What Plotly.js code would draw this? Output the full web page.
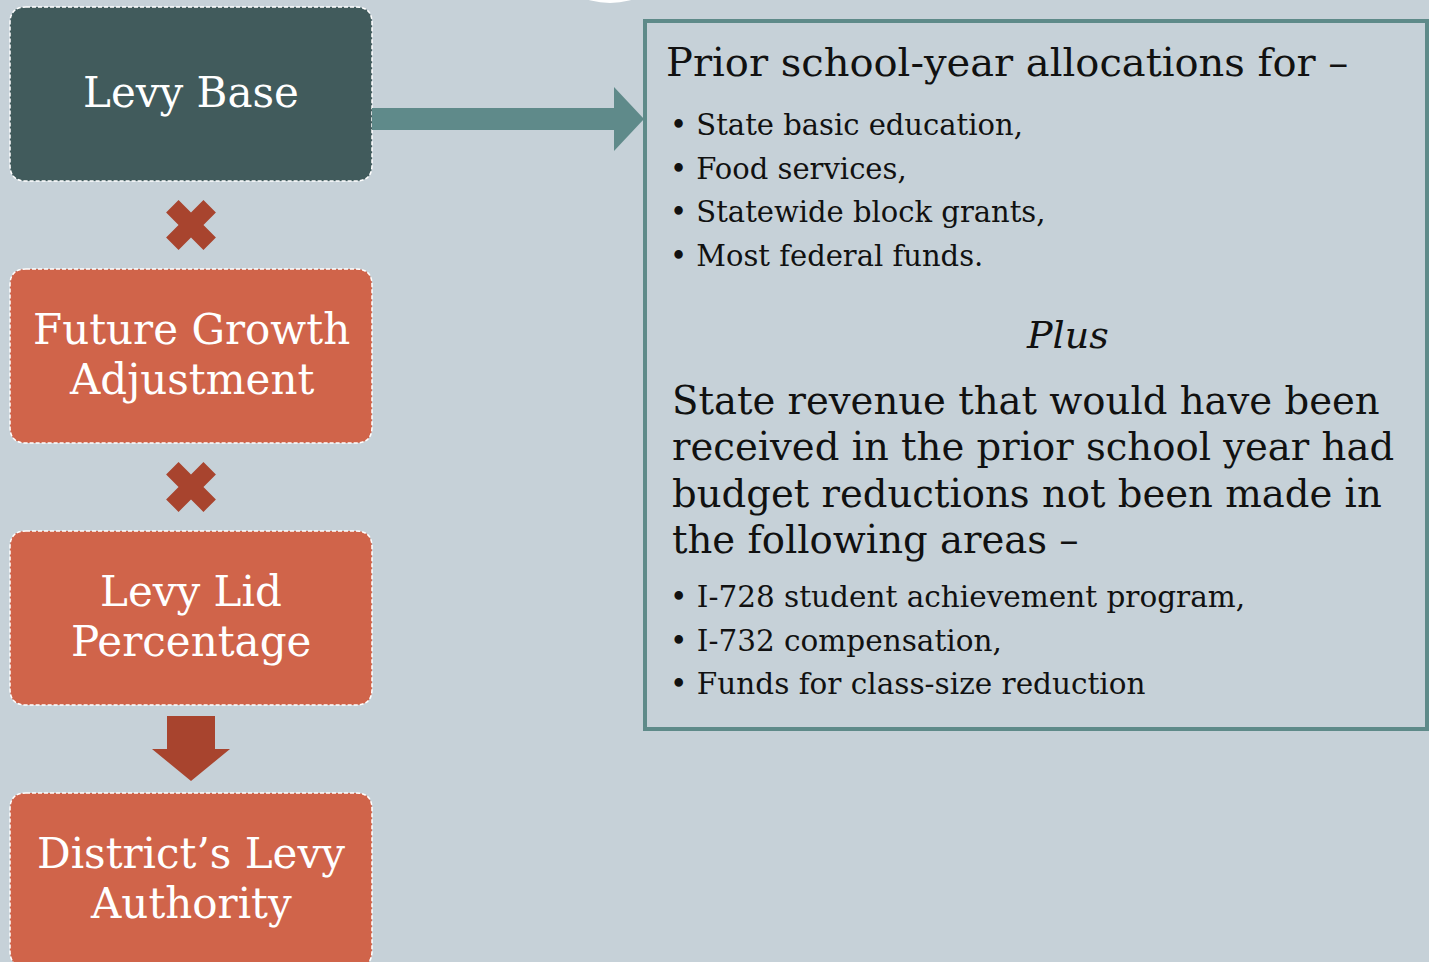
<!DOCTYPE html>
<html>
<head>
<meta charset="utf-8">
<script src="https://cdn.plot.ly/plotly-3.0.1.min.js"></script>
<style>
  html, body { margin: 0; padding: 0; background: #c6d1d8; }
  #plot { width: 1429px; height: 962px; }
</style>
</head>
<body>
<div id="plot"></div>
<script>
// left column: the formula boxes (one entry per text line)
const boxLabels = [["Levy Base"], ["Future Growth", "Adjustment"], ["Levy Lid", "Percentage"], ["District’s Levy", "Authority"]];
const boxColors = ["#415b5c", "#d0644a", "#d0644a", "#d0644a"];
// operators between the boxes
const operators = ["x", "x", "arrow"];

// right panel text
const heading = "Prior school-year allocations for –";
const firstBullets = ["State basic education,", "Food services,", "Statewide block grants,", "Most federal funds."];
const middleWord = "Plus";
const paragraphLines = [
  "State revenue that would have been",
  "received in the prior school year had",
  "budget reductions not been made in",
  "the following areas –"
];
const secondBullets = ["I-728 student achievement program,", "I-732 compensation,", "Funds for class-size reduction"];

const W = 1429, H = 962;
const bg = "#c6d1d8";
const font = "DejaVu Serif";

// layout constants (pixels)
const boxX0 = 10, boxX1 = 372, boxH = 174, boxStep = 262, boxTop = 7;
const panel = { x0: 645, y0: 21, x1: 1427, y1: 729 };

// rounded rectangle as svg path
function roundRect(x0, y0, x1, y1, r) {
  return `M${x0 + r},${y0} L${x1 - r},${y0} Q${x1},${y0} ${x1},${y0 + r} ` +
    `L${x1},${y1 - r} Q${x1},${y1} ${x1 - r},${y1} L${x0 + r},${y1} ` +
    `Q${x0},${y1} ${x0},${y1 - r} L${x0},${y0 + r} Q${x0},${y0} ${x0 + r},${y0} Z`;
}

let shapes = [];
let annotations = [];

boxLabels.forEach((lines, i) => {
  let y0 = boxTop + i * boxStep;
  let y1 = y0 + boxH;
  shapes.push({
    type: "path",
    path: roundRect(boxX0, y0, boxX1, y1, 16),
    fillcolor: boxColors[i],
    line: { color: "#ffffff", width: 1.5, dash: "4px,2px" },
    layer: "below"
  });
  let mid = (y0 + y1) / 2 - 2;
  lines.forEach((line, j) => {
    annotations.push({
      x: (boxX0 + boxX1) / 2, y: mid + (j - (lines.length - 1) / 2) * 50,
      text: line, showarrow: false,
      xanchor: "center", yanchor: "middle",
      font: { family: font, size: 42, color: "#ffffff" }
    });
  });
});

// operator marks between boxes
let xMarkX = [], xMarkY = [];
operators.forEach((op, i) => {
  let gapMid = boxTop + i * boxStep + boxH + (boxStep - boxH) / 2;
  if (op === "x") {
    xMarkX.push((boxX0 + boxX1) / 2);
    xMarkY.push(gapMid);
  } else {
    let cx = (boxX0 + boxX1) / 2;
    shapes.push({
      type: "path",
      path: `M${cx - 24},${gapMid - 33} L${cx + 24},${gapMid - 33} L${cx + 24},${gapMid} ` +
        `L${cx + 39},${gapMid} L${cx},${gapMid + 32} L${cx - 39},${gapMid} L${cx - 24},${gapMid} Z`,
      fillcolor: "#a8442e",
      line: { width: 0 }
    });
  }
});

// arrow from the levy base box to the panel
shapes.push({
  type: "path",
  path: `M${boxX1},108 L614,108 L614,87 L${panel.x0 - 1},119 L614,151 L614,130 L${boxX1},130 Z`,
  fillcolor: "#5f8a8a",
  line: { width: 0 }
});

// panel frame
shapes.push({
  type: "rect",
  x0: panel.x0, y0: panel.y0, x1: panel.x1, y1: panel.y1,
  line: { color: "#5e8a89", width: 4 },
  fillcolor: "rgba(0,0,0,0)"
});

// white arc peeking at the top edge
shapes.push({
  type: "circle",
  x0: 560, y0: -60, x1: 660, y1: 3,
  fillcolor: "#ffffff",
  line: { width: 0 },
  layer: "below"
});

const textColor = "#111111";

annotations.push({
  x: 664, y: 62, text: heading, showarrow: false,
  xanchor: "left", yanchor: "middle",
  font: { family: font, size: 40, color: textColor }
});

firstBullets.forEach((t, i) => {
  annotations.push({
    x: 668, y: 125 + i * 43.5, text: "• " + t, showarrow: false,
    xanchor: "left", yanchor: "middle",
    font: { family: font, size: 29, color: textColor }
  });
});

annotations.push({
  x: 1067, y: 335, text: "<i>" + middleWord + "</i>", showarrow: false,
  xanchor: "center", yanchor: "middle",
  font: { family: font, size: 38, color: textColor }
});

paragraphLines.forEach((t, i) => {
  annotations.push({
    x: 670, y: 400 + i * 46.5, text: t, showarrow: false,
    xanchor: "left", yanchor: "middle",
    font: { family: font, size: 38.6, color: textColor }
  });
});

secondBullets.forEach((t, i) => {
  annotations.push({
    x: 668, y: 597 + i * 43.5, text: "• " + t, showarrow: false,
    xanchor: "left", yanchor: "middle",
    font: { family: font, size: 29.5, color: textColor }
  });
});

const data = [{
  type: "scatter",
  mode: "markers",
  x: xMarkX,
  y: xMarkY,
  marker: { symbol: "x", size: 44, color: "#a8442e", line: { width: 0 } },
  hoverinfo: "skip"
}];

const layout = {
  width: W, height: H,
  margin: { l: 0, r: 0, t: 0, b: 0 },
  paper_bgcolor: bg,
  plot_bgcolor: bg,
  showlegend: false,
  xaxis: { range: [0, W], visible: false, fixedrange: true },
  yaxis: { range: [H, 0], visible: false, fixedrange: true },
  shapes: shapes,
  annotations: annotations
};

Plotly.newPlot("plot", data, layout, { staticPlot: true });
</script>
</body>
</html>
